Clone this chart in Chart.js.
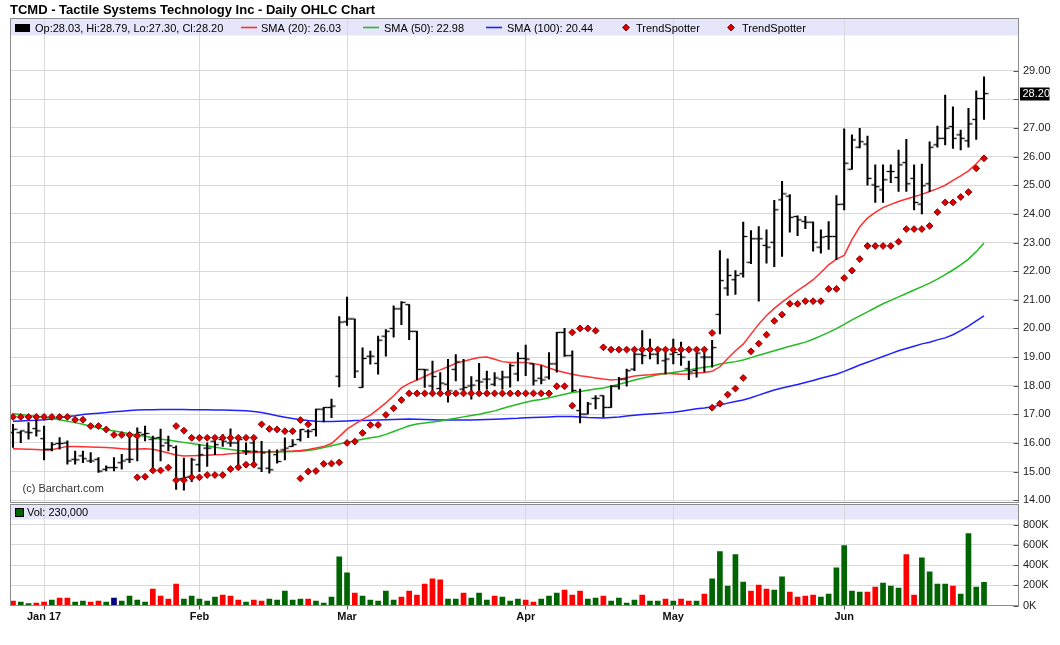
<!DOCTYPE html>
<html><head><meta charset="utf-8">
<script src="https://cdn.jsdelivr.net/npm/chart.js@4.4.1/dist/chart.umd.min.js"></script>
<style>
html,body{margin:0;padding:0;background:#fff;width:1060px;height:645px;overflow:hidden}
#wrap{position:relative;width:1060px;height:645px}
canvas{position:absolute;left:0}
#cPrice{top:0}
#cVol{top:503px}
</style></head><body>
<div id="wrap"><canvas id="cPrice" width="1060" height="503"></canvas><canvas id="cVol" width="1060" height="142"></canvas></div>
<script>
// ---------------- DATA ----------------
const chartTitle = 'TCMD - Tactile Systems Technology Inc - Daily OHLC Chart';
const monthTickIdx = [4, 24, 43, 66, 85, 107];
const monthLabels = ['Jan 17', 'Feb', 'Mar', 'Apr', 'May', 'Jun'];
const priceTicks = [14,15,16,17,18,19,20,21,22,23,24,25,26,27,28,29];
const volumeTicks = [0,200,400,600,800]; // thousands

const opens = [16.36,16.36,16.38,16.50,16.15,15.78,15.98,16.00,15.43,15.55,
15.37,15.43,15.08,15.14,15.31,15.43,16.24,16.30,16.13,16.19,
16.00,15.84,14.76,14.82,15.24,15.82,16.06,16.12,16.00,16.00,
15.71,16.00,15.12,15.12,15.59,15.76,15.88,16.12,16.41,16.47,
17.18,17.24,18.33,20.23,20.33,17.94,19.03,18.78,19.73,20.00,
20.68,20.83,19.90,18.57,17.99,17.90,18.05,18.57,17.88,17.99,
18.17,18.23,18.05,18.23,18.30,18.41,18.95,18.76,18.26,18.30,
18.76,19.86,19.05,17.13,17.01,17.56,17.65,17.24,17.98,18.23,
18.58,19.10,19.28,19.10,18.87,19.10,19.09,18.59,18.53,19.00,
19.00,20.49,21.41,21.70,21.91,22.31,23.13,22.90,23.01,24.49,
24.62,23.91,23.74,23.71,22.84,23.21,23.21,24.34,25.56,26.33,
26.44,25.01,24.84,25.48,25.27,25.79,25.24,24.34,25.05,26.41,
26.64,27.05,26.76,26.55,27.30,28.03];
const highs = [16.65,16.42,16.71,16.83,16.59,16.01,16.19,16.07,15.72,15.72,
15.66,15.49,15.20,15.49,15.60,16.36,16.53,16.59,16.24,16.48,
16.24,15.90,15.47,15.47,15.94,16.00,16.24,16.29,16.49,16.18,
16.00,16.18,16.06,15.76,15.76,16.18,16.12,16.47,16.47,17.18,
17.24,17.53,20.41,21.09,20.33,19.32,19.21,19.73,19.96,20.79,
20.94,20.83,19.90,18.57,18.86,18.46,18.92,19.09,18.92,18.32,
18.78,18.51,18.46,18.51,18.76,19.16,19.42,18.76,18.70,19.16,
19.86,20.00,19.22,17.88,17.42,17.65,17.65,18.00,18.29,18.58,
19.16,19.92,19.63,19.28,19.16,19.63,19.52,18.86,19.14,19.23,
19.58,22.72,22.43,22.02,23.71,23.42,23.56,23.44,24.47,25.14,
24.67,23.93,23.91,23.71,23.44,23.73,24.64,26.97,26.76,26.99,
26.72,25.71,25.71,25.71,26.23,26.60,25.71,25.74,26.52,27.07,
28.15,27.74,26.93,27.69,28.30,28.79];
const lows = [15.84,16.01,16.13,16.24,15.41,15.72,15.78,15.26,15.26,15.31,
15.31,14.97,15.02,15.02,15.08,15.31,15.37,16.07,15.14,15.37,
15.72,14.38,14.35,14.65,15.00,15.18,15.59,15.88,15.88,15.12,
15.59,15.29,15.00,14.94,15.29,15.41,15.88,16.06,16.18,16.24,
16.73,16.88,17.96,20.10,18.28,17.94,18.75,18.40,19.03,19.69,
20.13,19.61,18.20,17.94,17.82,17.82,17.42,18.17,17.82,17.53,
17.82,17.88,17.99,17.88,17.95,18.17,18.35,18.02,18.06,18.23,
18.47,19.02,17.79,16.70,17.01,17.19,16.90,17.24,17.88,17.98,
18.52,18.76,18.93,18.76,18.41,18.76,18.71,18.21,18.30,18.48,
18.65,19.81,21.15,21.19,21.79,22.26,20.95,22.28,22.16,22.51,
23.36,23.24,23.48,22.70,22.63,22.76,22.40,24.14,25.56,26.30,
25.00,24.40,24.40,25.09,24.78,24.78,24.14,24.00,24.78,26.33,
26.41,26.29,26.23,26.33,26.60,27.30];
const closes = [16.48,16.42,16.36,16.42,15.78,15.95,15.98,15.37,15.41,15.45,
15.37,15.02,15.14,15.14,15.37,15.43,16.36,16.33,16.15,15.90,
15.90,14.73,14.80,15.41,15.59,15.82,15.94,16.06,16.00,16.12,
15.71,15.71,15.65,15.06,15.35,15.82,15.94,16.47,16.41,17.18,
17.24,17.29,20.22,20.33,18.51,18.95,19.03,19.59,19.90,20.68,
20.91,19.90,18.57,18.55,18.32,18.09,17.82,18.83,17.94,18.02,
18.13,18.23,18.27,18.30,18.70,18.95,18.93,18.17,18.20,18.76,
19.86,19.05,17.83,17.01,17.36,17.56,17.24,17.98,18.23,18.52,
19.10,19.05,19.10,19.28,18.93,19.16,19.00,18.48,19.14,19.00,
19.33,21.67,21.85,21.85,23.21,23.13,23.13,22.84,24.14,24.70,
23.88,23.79,23.71,23.01,23.19,23.21,24.33,25.77,26.58,26.52,
25.24,24.95,25.19,25.48,25.71,25.05,24.40,24.98,26.33,26.64,
26.99,26.64,26.64,27.14,28.03,28.20];

// volume in thousands of shares
const volumes = [43,33,20,23,33,53,73,73,33,43,
33,43,33,73,43,93,53,33,163,93,
63,213,63,93,63,43,83,103,93,53,
33,53,43,63,53,143,53,63,63,43,
23,83,483,323,123,93,53,43,143,53,
83,143,103,213,263,253,63,63,123,73,
123,53,93,83,43,63,53,33,63,93,
123,153,103,143,63,73,93,43,73,23,
53,103,43,43,63,43,63,43,43,113,
263,533,193,503,233,143,203,163,153,283,
133,83,93,103,83,113,373,593,143,133,
133,183,223,193,173,503,103,473,333,213,
213,193,113,713,183,230];
// u = up day, d = down day, n = unchanged
const volumeDirection = ['d','u','u','d','d','u','d','d','u','u',
'd','d','u','n','u','u','u','u','d','d',
'd','d','u','u','u','u','u','d','d','d',
'u','d','d','u','u','u','u','u','d','u',
'u','u','u','u','d','u','u','u','u','u',
'd','d','d','d','d','d','u','u','d','u',
'u','u','d','u','u','u','d','d','u','u',
'u','d','d','d','u','u','d','u','u','u',
'u','d','u','u','d','u','d','d','u','d',
'u','u','u','u','u','d','d','d','u','u',
'd','d','d','d','u','u','u','u','u','u',
'd','d','u','u','u','d','d','u','u','u',
'u','d','u','u','u','u'];

const sma20 = [15.80,15.79,15.78,15.77,15.75,15.76,15.82,15.88,15.88,15.87,
15.86,15.85,15.84,15.82,15.80,15.78,15.79,15.80,15.78,15.72,
15.65,15.58,15.54,15.55,15.56,15.57,15.59,15.60,15.62,15.64,
15.66,15.67,15.68,15.69,15.70,15.71,15.72,15.74,15.77,15.82,
15.88,15.98,16.22,16.48,16.66,16.82,16.97,17.18,17.40,17.65,
17.92,18.08,18.20,18.32,18.45,18.55,18.66,18.78,18.85,18.92,
18.98,19.00,18.92,18.84,18.81,18.81,18.81,18.77,18.72,18.62,
18.53,18.46,18.40,18.35,18.31,18.27,18.23,18.20,18.22,18.28,
18.34,18.36,18.38,18.41,18.43,18.42,18.40,18.41,18.44,18.46,
18.50,18.66,18.95,19.22,19.45,19.80,20.15,20.45,20.70,20.92,
21.12,21.32,21.50,21.70,21.95,22.22,22.42,22.55,23.10,23.55,
23.85,24.05,24.22,24.33,24.43,24.52,24.60,24.68,24.78,24.88,
25.00,25.17,25.33,25.50,25.75,26.03];
const sma50 = [17.02,16.99,16.96,16.93,16.90,16.86,16.81,16.76,16.71,16.65,
16.58,16.52,16.47,16.42,16.37,16.32,16.28,16.23,16.18,16.13,
16.10,16.06,16.02,15.98,15.94,15.90,15.85,15.81,15.77,15.74,
15.72,15.70,15.68,15.68,15.68,15.69,15.70,15.71,15.74,15.78,
15.84,15.90,15.96,16.02,16.08,16.13,16.18,16.22,16.30,16.40,
16.50,16.60,16.66,16.70,16.73,16.77,16.82,16.86,16.91,16.96,
17.00,17.06,17.12,17.20,17.28,17.35,17.42,17.48,17.52,17.58,
17.64,17.70,17.76,17.80,17.84,17.88,17.92,17.98,18.05,18.12,
18.20,18.26,18.32,18.38,18.42,18.46,18.50,18.55,18.60,18.64,
18.68,18.76,18.80,18.84,18.90,18.98,19.06,19.14,19.22,19.30,
19.38,19.45,19.52,19.62,19.74,19.86,19.99,20.14,20.30,20.44,
20.58,20.72,20.86,20.98,21.10,21.22,21.34,21.46,21.58,21.72,
21.88,22.04,22.22,22.42,22.68,22.98];
const sma100 = [16.76,16.77,16.78,16.79,16.81,16.84,16.88,16.92,16.95,16.99,
17.02,17.04,17.06,17.09,17.11,17.13,17.15,17.16,17.16,17.17,
17.17,17.17,17.17,17.16,17.16,17.16,17.15,17.15,17.14,17.13,
17.12,17.10,17.06,17.01,16.95,16.90,16.85,16.81,16.78,16.76,
16.75,16.75,16.76,16.77,16.78,16.78,16.79,16.80,16.81,16.82,
16.83,16.84,16.83,16.82,16.81,16.80,16.80,16.80,16.80,16.80,
16.81,16.82,16.83,16.84,16.85,16.86,16.88,16.89,16.90,16.91,
16.92,16.92,16.92,16.91,16.89,16.88,16.87,16.89,16.91,16.94,
16.97,16.99,17.01,17.03,17.05,17.07,17.11,17.15,17.19,17.22,
17.26,17.32,17.39,17.45,17.50,17.58,17.67,17.76,17.85,17.92,
17.98,18.04,18.11,18.18,18.26,18.33,18.40,18.50,18.61,18.72,
18.82,18.92,19.02,19.12,19.22,19.30,19.38,19.46,19.52,19.60,
19.67,19.78,19.92,20.08,20.26,20.44];

const trendSpotterUpper = [16.91,16.91,16.91,16.91,16.91,16.91,16.91,16.91,16.81,16.81,
16.59,16.59,16.47,16.28,16.28,16.28,16.25,null,null,null,
null,16.59,16.43,16.18,16.18,16.18,16.18,16.18,16.18,16.18,
16.18,16.18,16.65,16.49,16.47,16.41,16.41,16.80,16.65,null,
null,null,null,null,null,null,null,null,null,null,
null,null,null,null,null,null,null,null,null,null,
null,null,null,null,null,null,null,null,null,null,
null,null,19.86,20.00,20.00,19.92,19.34,19.26,19.26,19.26,
19.26,19.26,19.26,19.26,19.26,19.26,19.26,19.26,19.26,19.26,
19.84,null,null,null,null,null,null,null,null,null,
null,null,null,null,null,null,null,null,null,null,
null,null,null,null,null,null,null,null,null,null,
null,null,null,null,null,null];
const trendSpotterLower = [null,null,null,null,null,null,null,null,null,null,
null,null,null,null,null,null,14.80,14.82,15.04,15.04,
15.14,14.70,14.70,14.80,14.80,14.88,14.88,14.88,15.09,15.15,
15.24,15.24,null,null,null,null,null,14.76,15.00,15.02,
15.27,15.28,15.32,16.00,16.05,16.35,16.63,16.63,16.98,17.21,
17.50,17.73,17.73,17.73,17.73,17.73,17.73,17.73,17.73,17.73,
17.73,17.73,17.73,17.73,17.73,17.73,17.73,17.73,17.73,17.73,
17.98,17.98,17.30,null,null,null,null,null,null,null,
null,null,null,null,null,null,null,null,null,null,
17.23,17.37,17.69,17.90,18.27,19.20,19.47,19.78,20.26,20.48,
20.86,20.86,20.95,20.95,20.95,21.38,21.38,21.76,22.02,22.42,
22.88,22.88,22.88,22.88,23.03,23.47,23.47,23.47,23.58,24.06,
24.40,24.40,24.59,24.76,25.59,25.94];

// ---------------- STYLE / LAYOUT ----------------
const FONT = "'Liberation Sans', Arial, Helvetica, sans-serif";
Chart.defaults.font.family = FONT;
Chart.defaults.font.size = 11;
Chart.defaults.color = '#222';
const GRID = '#d9d9d9';
const BAND = '#e6e6fa';
const BORDER = '#8c8c8c';
const RED = '#ff3030', GREEN = '#22bb22', BLUE = '#2020ff';
const XMIN = -0.322, XMAX = 129.44;
const N = closes.length;
const idx = Array.from({length: N}, (_, i) => i);
const pts = arr => idx.map(i => ({x: i, y: arr[i]}));

function tickImage(left) {
  const c = document.createElement('canvas');
  c.width = 9; c.height = 3;
  const g = c.getContext('2d');
  g.fillStyle = '#000';
  g.fillRect(left ? 0.5 : 4.5, 0.85, 4, 1.3);
  return c;
}
const openTick = tickImage(true), closeTick = tickImage(false);

function drawDiamond(ctx, x, y, r) {
  ctx.beginPath();
  ctx.moveTo(x, y - r); ctx.lineTo(x + r, y); ctx.lineTo(x, y + r); ctx.lineTo(x - r, y); ctx.closePath();
  ctx.fillStyle = '#dd0000'; ctx.fill();
  ctx.lineWidth = 1; ctx.strokeStyle = '#880000'; ctx.stroke();
}
function insideTicks(chart) {
  const {ctx, chartArea: a} = chart;
  const ys = chart.scales.y;
  ctx.save();
  ctx.strokeStyle = '#555'; ctx.lineWidth = 1;
  ys.ticks.forEach(t => {
    const y = Math.round(ys.getPixelForValue(t.value)) + 0.5;
    ctx.beginPath(); ctx.moveTo(a.right - 5, y); ctx.lineTo(a.right, y); ctx.stroke();
  });
  ctx.restore();
}
function frame(chart) {
  const {ctx, chartArea: a} = chart;
  ctx.save();
  ctx.strokeStyle = BORDER; ctx.lineWidth = 1;
  ctx.strokeRect(a.left, a.top, a.right - a.left, a.bottom - a.top);
  ctx.restore();
}
function noPad(s) { s.paddingTop = 0; s.paddingBottom = 0; s.paddingLeft = 0; s.paddingRight = 0; }

const pricePanel = {
  id: 'pricePanel',
  beforeDraw(chart) {
    const {ctx, chartArea: a} = chart;
    ctx.save();
    ctx.fillStyle = '#fff'; ctx.fillRect(0, 0, chart.width, chart.height);
    ctx.fillStyle = BAND; ctx.fillRect(a.left, a.top, a.right - a.left, 17);
    ctx.restore();
  },
  beforeDatasetsDraw(chart) {
    const {ctx} = chart;
    ctx.save();
    ctx.font = '11px ' + FONT; ctx.fillStyle = '#333'; ctx.textBaseline = 'alphabetic';
    ctx.fillText('(c) Barchart.com', 22.5, 492);
    ctx.restore();
  },
  afterDraw(chart) {
    const {ctx} = chart;
    const ds = chart.data.datasets;
    frame(chart);
    insideTicks(chart);
    ctx.save();
    ctx.font = 'bold 13px ' + FONT; ctx.fillStyle = '#000'; ctx.textBaseline = 'alphabetic';
    ctx.fillText(chartTitle, 10, 13.5);
    ctx.font = '11px ' + FONT; ctx.fillStyle = '#000';
    ctx.fillRect(15, 24, 15, 8);
    ctx.fillText(ds[0].label, 35, 32);
    const lines = [[3, 241, 261], [4, 363, 384], [5, 486, 507]];
    lines.forEach(([k, x, tx]) => {
      ctx.strokeStyle = ds[k].borderColor; ctx.lineWidth = 1.6;
      ctx.beginPath(); ctx.moveTo(x, 27.5); ctx.lineTo(x + 16, 27.5); ctx.stroke();
      ctx.fillStyle = '#000'; ctx.fillText(ds[k].label, tx, 32);
    });
    [[6, 626, 636], [7, 731, 742]].forEach(([k, x, tx]) => {
      drawDiamond(ctx, x, 27.5, 3.4);
      ctx.fillStyle = '#000'; ctx.fillText(ds[k].label, tx, 32);
    });
    const y = chart.scales.y.getPixelForValue(closes[N - 1]);
    ctx.fillStyle = '#000'; ctx.fillRect(1020, Math.round(y) - 6.5, 29.5, 13);
    ctx.fillStyle = '#fff'; ctx.textBaseline = 'middle';
    ctx.fillText(closes[N - 1].toFixed(2), 1022.5, Math.round(y));
    ctx.restore();
  }
};

const volPanel = {
  id: 'volPanel',
  beforeDraw(chart) {
    const {ctx, chartArea: a} = chart;
    ctx.save();
    ctx.fillStyle = '#fff'; ctx.fillRect(0, 0, chart.width, chart.height);
    ctx.fillStyle = BAND; ctx.fillRect(a.left, a.top, a.right - a.left, 15);
    ctx.restore();
  },
  afterDraw(chart) {
    const {ctx} = chart;
    frame(chart);
    insideTicks(chart);
    ctx.save();
    ctx.fillStyle = '#006400'; ctx.fillRect(15.5, 5.5, 8, 8);
    ctx.strokeStyle = '#000'; ctx.lineWidth = 1; ctx.strokeRect(15.5, 5.5, 8, 8);
    ctx.font = '11px ' + FONT; ctx.fillStyle = '#000'; ctx.textBaseline = 'alphabetic';
    ctx.fillText(chart.data.datasets[0].label, 27, 13);
    ctx.restore();
  }
};

const ohlcLabel = 'Op:' + opens[N-1].toFixed(2) + ', Hi:' + highs[N-1].toFixed(2) +
  ', Lo:' + lows[N-1].toFixed(2) + ', Cl:' + closes[N-1].toFixed(2);

new Chart(document.getElementById('cPrice'), {
  type: 'bar',
  data: {
    datasets: [
      {type: 'bar', label: ohlcLabel, data: idx.map(i => ({x: i, y: [lows[i], highs[i]]})),
       backgroundColor: '#000', borderWidth: 0, barThickness: 1.4, order: 2},
      {type: 'scatter', label: 'Open', data: pts(opens), pointStyle: openTick, pointRadius: 4, order: 2},
      {type: 'scatter', label: 'Close', data: pts(closes), pointStyle: closeTick, pointRadius: 4, order: 2},
      {type: 'line', label: 'SMA (20): ' + sma20[N-1].toFixed(2), data: pts(sma20), borderColor: RED, borderWidth: 1.5, pointRadius: 0, order: 5},
      {type: 'line', label: 'SMA (50): ' + sma50[N-1].toFixed(2), data: pts(sma50), borderColor: GREEN, borderWidth: 1.5, pointRadius: 0, order: 5},
      {type: 'line', label: 'SMA (100): ' + sma100[N-1].toFixed(2), data: pts(sma100), borderColor: BLUE, borderWidth: 1.5, pointRadius: 0, order: 5},
      {type: 'scatter', label: 'TrendSpotter', data: pts(trendSpotterUpper), pointStyle: 'rectRot', pointRadius: 3.4,
       backgroundColor: '#dd0000', borderColor: '#880000', borderWidth: 1, order: 0},
      {type: 'scatter', label: 'TrendSpotter', data: pts(trendSpotterLower), pointStyle: 'rectRot', pointRadius: 3.4,
       backgroundColor: '#dd0000', borderColor: '#880000', borderWidth: 1, order: 0}
    ]
  },
  options: {
    responsive: false, animation: false, events: [],
    layout: {autoPadding: false, padding: {left: 10.5, top: 18.5, right: 0, bottom: 0.5}},
    plugins: {legend: {display: false}, tooltip: {enabled: false}},
    scales: {
      x: {type: 'linear', min: XMIN, max: XMAX, offset: false,
          afterBuildTicks: s => { s.ticks = monthTickIdx.map(v => ({value: v})); },
          ticks: {display: false}, grid: {color: GRID, drawTicks: false, offset: false}, border: {display: false},
          afterFit: s => { s.height = 0; noPad(s); }},
      y: {position: 'right', min: 13.92, max: 30.823,
          afterBuildTicks: s => { s.ticks = priceTicks.map(v => ({value: v})); },
          ticks: {padding: 4.5, color: '#222', font: {size: 11},
                  callback: v => Math.abs(v - closes[N-1]) < 0.45 ? '' : Number(v).toFixed(2)},
          grid: {color: GRID, drawTicks: false}, border: {display: false},
          afterFit: s => { s.width = 41.5; noPad(s); }}
    }
  },
  plugins: [pricePanel]
});

new Chart(document.getElementById('cVol'), {
  type: 'bar',
  data: {
    datasets: [{
      label: 'Vol: ' + (volumes[N-1] * 1000).toLocaleString('en-US'),
      data: pts(volumes),
      backgroundColor: volumeDirection.map(d => d === 'u' ? '#006400' : d === 'd' ? '#ff0000' : '#000080'),
      borderWidth: 0, barThickness: 5
    }]
  },
  options: {
    responsive: false, animation: false, events: [],
    layout: {autoPadding: false, padding: {left: 10.5, top: 1.5, right: 0, bottom: 0}},
    plugins: {legend: {display: false}, tooltip: {enabled: false}},
    scales: {
      x: {type: 'linear', min: XMIN, max: XMAX, offset: false,
          afterBuildTicks: s => { s.ticks = monthTickIdx.map(v => ({value: v})); },
          ticks: {autoSkip: false, maxRotation: 0, padding: 1, color: '#111', font: {size: 11, weight: 'bold'},
                  callback: (v, i) => monthLabels[i]},
          grid: {color: GRID, drawTicks: true, tickLength: 4, tickColor: '#555', offset: false}, border: {display: false},
          afterFit: s => { s.height = 39.5; noPad(s); }},
      y: {position: 'right', min: 0, max: 1000,
          afterBuildTicks: s => { s.ticks = volumeTicks.map(v => ({value: v})); },
          ticks: {padding: 4.5, color: '#222', font: {size: 11}, callback: v => v + 'K'},
          grid: {color: GRID, drawTicks: false}, border: {display: false},
          afterFit: s => { s.width = 41.5; noPad(s); }}
    }
  },
  plugins: [volPanel]
});
</script>
</body></html>
